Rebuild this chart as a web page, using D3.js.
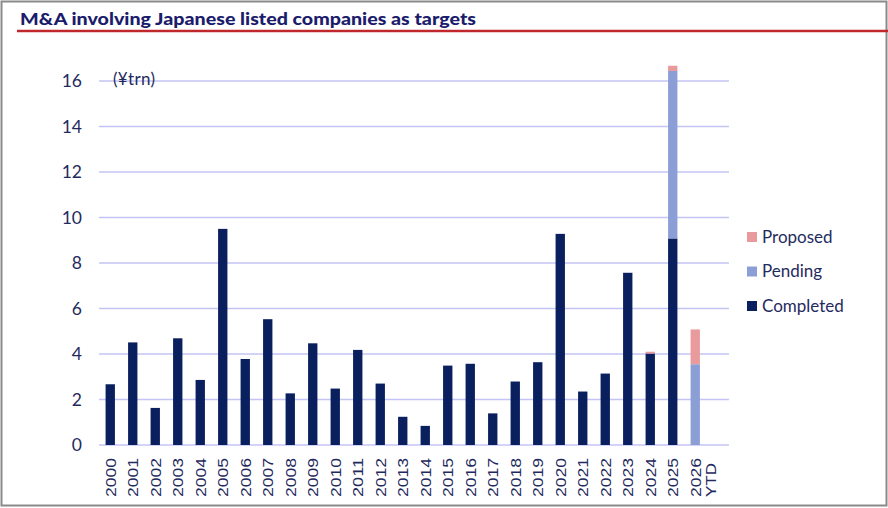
<!DOCTYPE html>
<html>
<head>
<meta charset="utf-8">
<script src="https://cdn.jsdelivr.net/npm/d3@7"></script>
<style>
  body { margin: 0; background: #fff; }
  svg { display: block; }
</style>
</head>
<body>
<div id="chart"></div>
<script>
// data, in ¥trn
var years = ["2000","2001","2002","2003","2004","2005","2006","2007","2008","2009",
             "2010","2011","2012","2013","2014","2015","2016","2017","2018","2019",
             "2020","2021","2022","2023","2024","2025","2026 YTD"];
var completed = [2.67,4.51,1.63,4.69,2.86,9.5,3.78,5.53,2.27,4.47,
                 2.48,4.18,2.7,1.24,0.84,3.49,3.57,1.39,2.79,3.64,
                 9.28,2.35,3.14,7.57,4.02,9.08,0];
var pending   = [0,0,0,0,0,0,0,0,0,0, 0,0,0,0,0,0,0,0,0,0, 0,0,0,0,0,7.36,3.55];
var proposed  = [0,0,0,0,0,0,0,0,0,0, 0,0,0,0,0,0,0,0,0,0, 0,0,0,0,0.08,0.23,1.53];
var seriesNames = ["Completed","Pending","Proposed"];
var yTicks = [0,2,4,6,8,10,12,14,16];

var width = 888, height = 508,
    x0 = 99, step = 22.5,
    gridRight = x0 + 28 * step,
    colors = {Completed: "#0a1f5e", Pending: "#8c9ed6", Proposed: "#e89a9c"},
    navy = "#1f2b5e";

var svg = d3.select("#chart")
  .append("svg")
    .attr("width", width)
    .attr("height", height);

svg.append("rect")
  .attr("x", 1.5).attr("y", 1.5)
  .attr("width", width - 3).attr("height", height - 4)
  .attr("fill", "#fff")
  .attr("stroke", "#8a8a8a")
  .attr("stroke-width", 2);

// title + red rule
svg.append("text")
  .attr("x", 20).attr("y", 25)
  .attr("textLength", 456)
  .attr("lengthAdjust", "spacingAndGlyphs")
  .style("font-family", "Lato, sans-serif")
  .style("font-weight", "900")
  .style("font-size", "17px")
  .style("fill", "#1b1c6b")
  .text("M&A involving Japanese listed companies as targets");

svg.append("line")
  .attr("x1", 17).attr("x2", width)
  .attr("y1", 31).attr("y2", 31)
  .attr("stroke", "#c0272d")
  .attr("stroke-width", 2.5);

var x = d3.scaleBand()
  .domain(years)
  .range([x0, x0 + years.length * step])
  .paddingInner(0.585)
  .paddingOuter(0.585 / 2);

var y = d3.scaleLinear()
  .domain([0, 16])
  .range([445, 81]);

// gridlines
svg.append("g")
  .selectAll("line")
  .data(yTicks)
  .enter().append("line")
    .attr("x1", x0).attr("x2", gridRight)
    .attr("y1", function(d) { return y(d); })
    .attr("y2", function(d) { return y(d); })
    .attr("stroke", "#c4c4f6")
    .attr("stroke-width", 1.5);

// y axis labels
var yAxis = svg.append("g")
  .attr("transform", "translate(82,0)")
  .call(d3.axisLeft(y).tickValues(yTicks).tickSize(0).tickPadding(0));
yAxis.select(".domain").remove();
yAxis.selectAll("text")
  .style("font-family", "Lato, sans-serif")
  .style("font-size", "17.5px")
  .style("fill", navy);

svg.append("text")
  .attr("x", 113).attr("y", 85)
  .attr("textLength", 42)
  .style("font-family", "Lato, sans-serif")
  .style("font-size", "17px")
  .style("fill", navy)
  .text("(¥trn)");

// stacked bars
var rows = years.map(function(yr, i) {
  return {year: yr, Completed: completed[i], Pending: pending[i], Proposed: proposed[i]};
});
var stacked = d3.stack().keys(seriesNames)(rows);

svg.append("g")
  .selectAll("g")
  .data(stacked)
  .enter().append("g")
    .attr("fill", function(d) { return colors[d.key]; })
  .selectAll("rect")
  .data(function(d) { return d.filter(function(s) { return s[1] - s[0] > 0; }); })
  .enter().append("rect")
    .attr("x", function(d) { return x(d.data.year); })
    .attr("width", x.bandwidth())
    .attr("y", function(d) { return y(d[1]); })
    .attr("height", function(d) { return y(d[0]) - y(d[1]); });

// rotated x labels, one text per line
var lines = [];
years.forEach(function(d) {
  d.split(" ").forEach(function(p, j) {
    lines.push({year: d, text: p, line: j});
  });
});

svg.append("g")
  .selectAll("text")
  .data(lines)
  .enter().append("text")
    .attr("transform", function(d) {
      var cx = x(d.year) + x.bandwidth() / 2 + d.line * 15;
      return "translate(" + cx + ",497) rotate(-90)";
    })
    .attr("dy", "0.36em")
    .attr("textLength", function(d) { return d.text.length === 4 ? 39 : 34; })
    .attr("lengthAdjust", "spacingAndGlyphs")
    .style("font-family", "'Liberation Sans', Arial, sans-serif")
    .style("font-size", "15px")
    .style("fill", navy)
    .text(function(d) { return d.text; });

// legend
var legendOrder = ["Proposed","Pending","Completed"];
var legend = svg.append("g")
  .selectAll("g")
  .data(legendOrder)
  .enter().append("g")
    .attr("transform", function(d, i) { return "translate(747," + (237 + i * 34.5) + ")"; });

legend.append("rect")
  .attr("x", 0).attr("y", -5)
  .attr("width", 10).attr("height", 10)
  .attr("fill", function(d) { return colors[d]; });

legend.append("text")
  .attr("x", 15).attr("y", 0)
  .attr("dy", "0.35em")
  .style("font-family", "Lato, sans-serif")
  .style("font-size", "17px")
  .style("fill", navy)
  .text(function(d) { return d; });
</script>
</body>
</html>
